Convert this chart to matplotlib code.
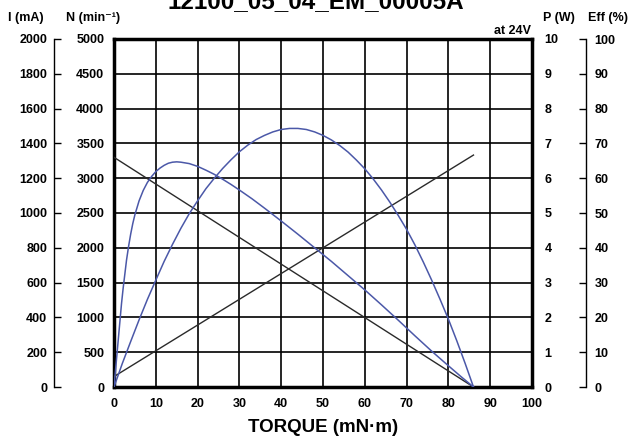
import matplotlib
matplotlib.use("Agg")
import matplotlib.pyplot as plt

# ---- data ----
title = "12100_05_04_EM_00005A"
torque_ticks = [0, 10, 20, 30, 40, 50, 60, 70, 80, 90, 100]
speed_ticks = [0, 500, 1000, 1500, 2000, 2500, 3000, 3500, 4000, 4500, 5000]
current_ticks = [0, 200, 400, 600, 800, 1000, 1200, 1400, 1600, 1800, 2000]
power_ticks = [0, 1, 2, 3, 4, 5, 6, 7, 8, 9, 10]
eff_ticks = [0, 10, 20, 30, 40, 50, 60, 70, 80, 90, 100]

speed_torque = [0, 86]
speed_rpm = [3300, 0]

current_torque = [0, 86]
current_ma = [60, 1333]

power_torque = [0, 2, 4, 6, 8, 10, 12, 14, 16, 18, 20, 22, 24, 26, 28, 30, 32, 34,
                36, 38, 40, 42, 44, 46, 48, 50, 52, 54, 56, 58, 60, 62, 64, 66, 68,
                70, 72, 74, 76, 78, 80, 82, 84, 86]
power_w = [0, 0.68, 1.31, 1.93, 2.52, 3.07, 3.61, 4.10, 4.56, 4.98, 5.35, 5.70, 6.00,
           6.28, 6.53, 6.76, 6.95, 7.11, 7.23, 7.33, 7.40, 7.43, 7.43, 7.40, 7.33,
           7.23, 7.10, 6.94, 6.75, 6.52, 6.27, 5.98, 5.66, 5.31, 4.93, 4.53, 4.08,
           3.59, 3.07, 2.52, 1.95, 1.33, 0.68, 0]

eff_torque = [0, 0.3, 0.6, 0.9, 1.2, 1.5, 1.8, 2.2, 2.6, 3.0, 3.5, 4.0, 4.5, 5, 6, 7,
              8, 9, 10, 11, 12, 13, 14, 15, 16, 18, 20, 22, 24, 26, 28, 30, 33, 36,
              40, 44, 48, 52, 56, 60, 64, 68, 72, 76, 80, 83, 86]
eff_pct = [0, 4, 8, 12, 16, 20, 24, 28.5, 32.5, 36.5, 40.5, 44, 47, 49.5, 53.5, 56.5,
           58.8, 60.5, 61.9, 62.9, 63.7, 64.3, 64.6, 64.7, 64.6, 64.2, 63.4, 62.3,
           61.1, 59.7, 58.2, 56.6, 54.1, 51.4, 47.7, 43.9, 40.0, 36.1, 32.0, 27.9,
           23.6, 19.2, 14.7, 10.3, 6.1, 3.0, 0]

# ---- layout ----
W, H = 632, 438
fig = plt.figure(figsize=(W / 100, H / 100), dpi=100)
L, R, B, T = 114, 532, 387, 39
pos = [L / W, (H - B) / H, (R - L) / W, (B - T) / H]

font = ["Liberation Sans", "DejaVu Sans"]
tick_fs = 9
blue = "#4b58a8"
dark = "#2a2a2a"


def style_labels(axis_obj):
    for lab in axis_obj.get_ticklabels():
        lab.set_fontsize(tick_fs)
        lab.set_fontweight("bold")
        lab.set_family(font)


ax = fig.add_axes(pos)
ax.set_xlim(0, 100)
ax.set_ylim(0, 5000)
ax.set_xticks(torque_ticks)
ax.set_yticks(speed_ticks)
ax.set_xticklabels([str(t) for t in torque_ticks])
ax.set_yticklabels([str(t) for t in speed_ticks])
style_labels(ax.xaxis)
style_labels(ax.yaxis)
ax.tick_params(axis="x", length=0, pad=8)
ax.tick_params(axis="y", length=0, pad=7)
ax.grid(True, color="black", linewidth=1.2)
ax.set_axisbelow(True)
for s in ax.spines.values():
    s.set_linewidth(2.5)
    s.set_color("black")
ax.plot(speed_torque, speed_rpm, color=dark, lw=1.0, zorder=3)

# current axis (left, outer)
axI = fig.add_axes(pos, sharex=ax)
axI.patch.set_visible(False)
for k in ["top", "right", "bottom"]:
    axI.spines[k].set_visible(False)
axI.spines["left"].set_position(("axes", (54 - L) / (R - L)))
axI.spines["left"].set_linewidth(1.0)
axI.set_ylim(0, 2000)
axI.set_yticks(current_ticks)
axI.set_yticklabels([str(t) for t in current_ticks])
style_labels(axI.yaxis)
axI.tick_params(axis="y", direction="in", length=5, width=1.0, pad=5)
axI.tick_params(axis="x", bottom=False, labelbottom=False)
axI.plot(current_torque, current_ma, color=dark, lw=1.0, zorder=3)

# power axis (right, labels only)
axP = fig.add_axes(pos, sharex=ax)
axP.patch.set_visible(False)
for s in axP.spines.values():
    s.set_visible(False)
axP.set_ylim(0, 10)
axP.yaxis.tick_right()
axP.set_yticks(power_ticks)
axP.set_yticklabels([str(t) for t in power_ticks])
style_labels(axP.yaxis)
axP.tick_params(axis="y", length=0, pad=9)
axP.tick_params(axis="x", bottom=False, labelbottom=False)
axP.plot(power_torque, power_w, color=blue, lw=1.1, zorder=3)

# efficiency axis (right, outer)
axE = fig.add_axes(pos, sharex=ax)
axE.patch.set_visible(False)
for k in ["top", "left", "bottom"]:
    axE.spines[k].set_visible(False)
axE.spines["right"].set_position(("axes", (586 - L) / (R - L)))
axE.spines["right"].set_linewidth(1.0)
axE.set_ylim(0, 100)
axE.yaxis.tick_right()
axE.set_yticks(eff_ticks)
axE.set_yticklabels([str(t) for t in eff_ticks])
style_labels(axE.yaxis)
axE.tick_params(axis="y", direction="in", length=5, width=1.0, pad=6)
axE.tick_params(axis="x", bottom=False, labelbottom=False)
axE.plot(eff_torque, eff_pct, color=blue, lw=1.1, zorder=3)


# header texts
def ftxt(x, y, s, ha="left", fs=9, **kw):
    fig.text(x / W, 1 - y / H, s, ha=ha, va="center", fontsize=fs,
             fontweight="bold", family=font, **kw)


ftxt(8, 18, "I (mA)")
ftxt(66, 18, "N (min⁻¹)")
ftxt(543, 18, "P (W)")
ftxt(588, 18, "Eff (%)")
ftxt(531, 31, "at 24V", ha="right")
ftxt(323, 427, "TORQUE (mN·m)", ha="center", fs=13.5)

fig.text(0.5, 1 - 8 / H, title, ha="center", va="baseline", fontsize=17.5,
         fontweight="bold", family=font)

fig.savefig("out.png", dpi=100)
